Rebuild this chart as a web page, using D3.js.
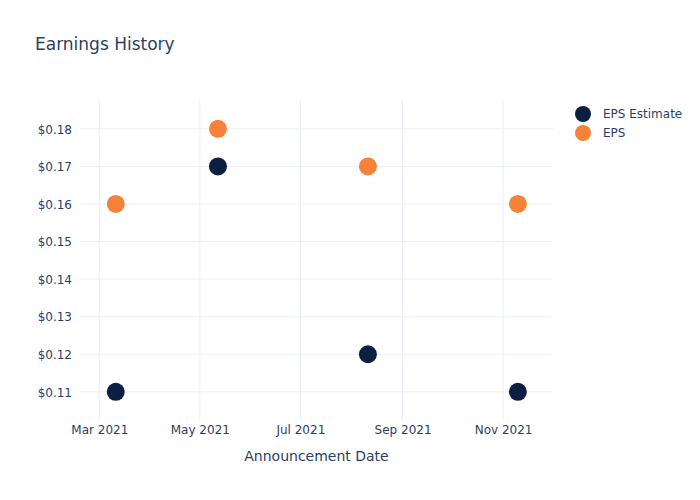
<!DOCTYPE html>
<html><head><meta charset="utf-8">
<script src="https://cdn.jsdelivr.net/npm/d3@7"></script>
<style>body{margin:0;background:#fff}svg{display:block}svg text{font-family:"DejaVu Sans",Verdana,sans-serif}</style>
</head><body><svg id="c" width="700" height="500"></svg>
<script>
const dates = ["2021-03-11","2021-05-12","2021-08-11","2021-11-10"];
const epsEstimate = [0.11, 0.17, 0.12, 0.11];
const eps = [0.16, 0.18, 0.17, 0.16];
const seriesNames = ["EPS Estimate","EPS"];
const seriesColors = ["#0c1f41","#f6823a"];
const yTicks = [0.11,0.12,0.13,0.14,0.15,0.16,0.17,0.18];
const xTicks = ["2021-03-01","2021-05-01","2021-07-01","2021-09-01","2021-11-01"];

const parse = d3.utcParse("%Y-%m-%d");
const svg = d3.select("#c");
const L=80,R=553,T=100,B=420;
const x = d3.scaleUtc().domain([new Date(Date.UTC(2021,1,17,7)), new Date(Date.UTC(2021,11,1,7))]).range([L,R]);
const y = d3.scaleLinear().domain([0.10250,0.18767]).range([B,T]);
const txt="#2a3f5f", grid="#ebf0f8";

// grid
svg.append("g").selectAll("line").data(yTicks).join("line")
  .attr("x1",L).attr("x2",R).attr("y1",d=>y(d)).attr("y2",d=>y(d)).attr("stroke",grid).attr("stroke-width",1);
svg.append("g").selectAll("line").data(xTicks).join("line")
  .attr("x1",d=>x(parse(d))).attr("x2",d=>x(parse(d))).attr("y1",T).attr("y2",B).attr("stroke",grid).attr("stroke-width",1);

// axes
const yAxis = d3.axisLeft(y).tickValues(yTicks).tickFormat(d=>"$"+d.toFixed(2)).tickSize(0).tickPadding(8);
const gy = svg.append("g").attr("transform",`translate(${L},0)`).call(yAxis);
gy.select(".domain").remove();
gy.selectAll("text").attr("fill",txt).style("font-size","12px").style("font-family",'"DejaVu Sans",Verdana,sans-serif').attr("dy","0.35em");

const xAxis = d3.axisBottom(x).tickValues(xTicks.map(parse)).tickFormat(d3.utcFormat("%b %Y")).tickSize(0).tickPadding(5);
const gx = svg.append("g").attr("transform",`translate(0,${B})`).call(xAxis);
gx.select(".domain").remove();
gx.selectAll("text").attr("fill",txt).style("font-size","12px").style("font-family",'"DejaVu Sans",Verdana,sans-serif');

// points
[epsEstimate, eps].forEach((vals,i)=>{
  svg.append("g").selectAll("circle").data(vals).join("circle")
    .attr("cx",(d,j)=>x(parse(dates[j]))).attr("cy",d=>y(d)).attr("r",9)
    .attr("fill",seriesColors[i]);
});

// title
svg.append("text").attr("x",35).attr("y",50).attr("fill",txt).style("font-size","17px").text("Earnings History");
svg.append("text").attr("x",(L+R)/2).attr("y",461).attr("text-anchor","middle").attr("fill",txt).style("font-size","14px").text("Announcement Date");

// legend
const lg = svg.append("g").selectAll("g").data(seriesNames).join("g")
  .attr("transform",(d,i)=>`translate(583,${114+i*19})`);
lg.append("circle").attr("r",8).attr("fill",(d,i)=>seriesColors[i]);
lg.append("text").attr("x",20).attr("dy","0.35em").attr("fill",txt).style("font-size","12px").text(d=>d);
</script></body></html>
